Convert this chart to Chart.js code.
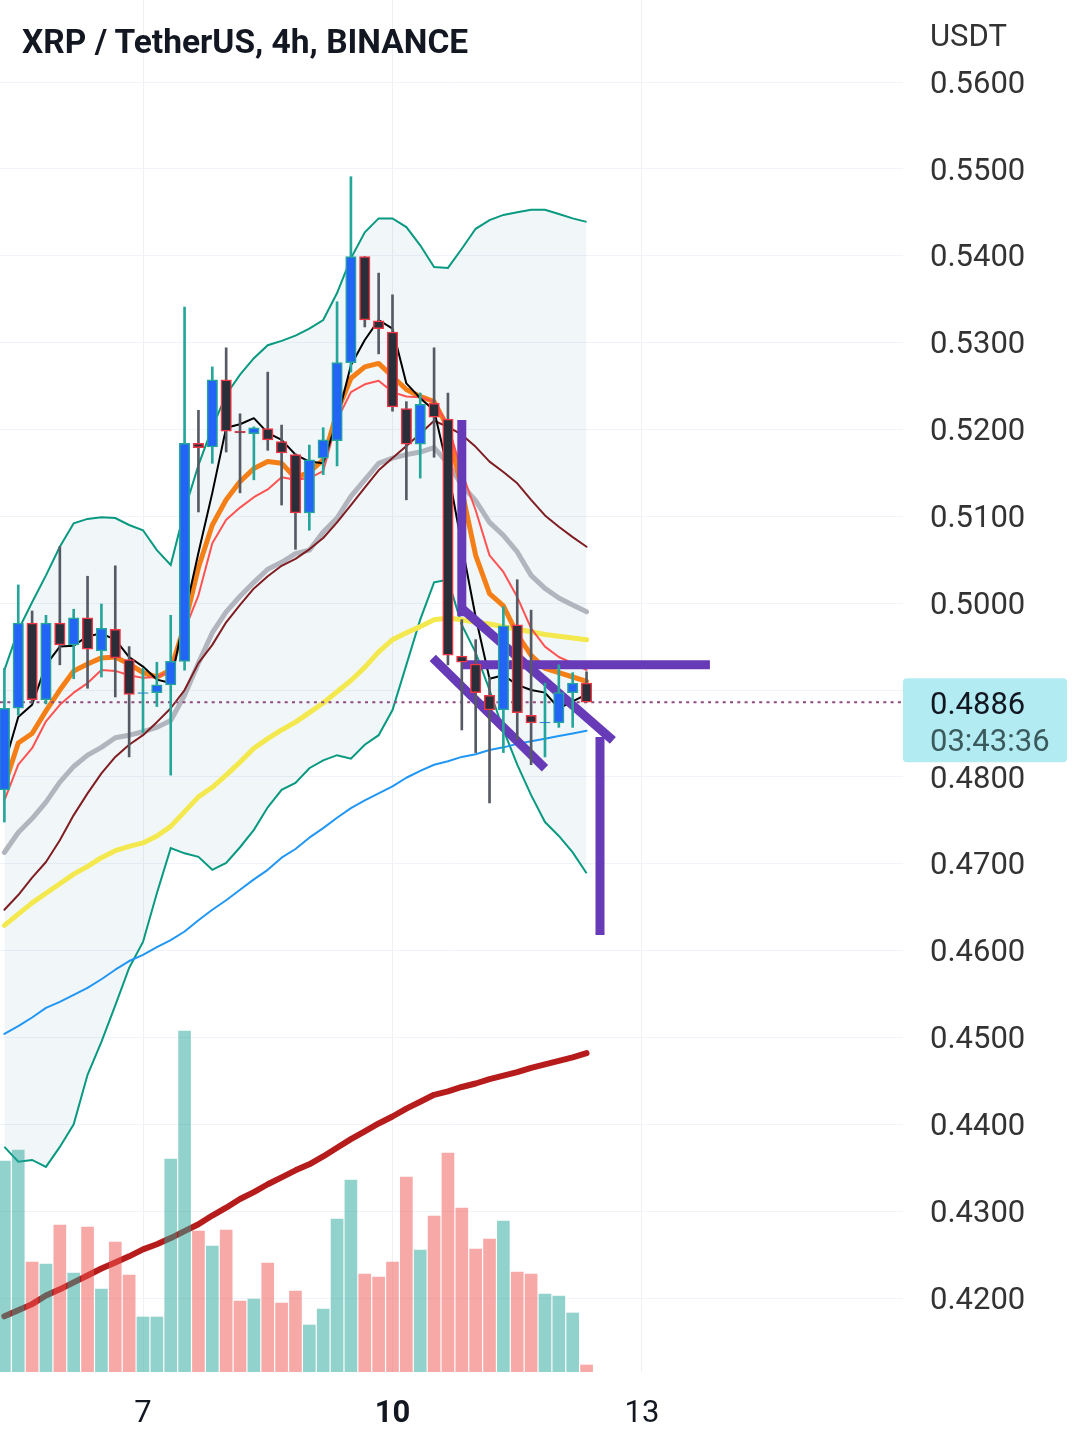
<!DOCTYPE html>
<html>
<head>
<meta charset="utf-8">
<script src="https://cdn.jsdelivr.net/npm/chart.js@4.4.1/dist/chart.umd.min.js"></script>
<style>
html, body { margin: 0; padding: 0; background: #fff; }
#wrap { position: relative; width: 1081px; height: 1446px; overflow: hidden; }
#chart { position: absolute; left: 0; top: 0; }
#title { position: absolute; left: 22px; top: 22px; font: bold 33.5px Roboto, sans-serif; color: #131722; line-height: 40px; white-space: nowrap; }
#unit { position: absolute; left: 930px; top: 17px; font: 31px Roboto, sans-serif; color: #333; line-height: 38px; }
</style>
</head>
<body>
<div id="wrap">
  <canvas id="chart" width="1081" height="1446"></canvas>
  <div id="title">XRP / TetherUS, 4h, BINANCE</div>
  <div id="unit">USDT</div>
</div>
<script>
// 4h candles, index 0 = day 5 08:00
var opens  = [0.4785, 0.4879, 0.4977, 0.4889, 0.4977, 0.4952, 0.4983, 0.4945, 0.4970, 0.4935,
              0.4896, 0.4897, 0.4906, 0.4933, 0.5184, 0.5180, 0.5257, 0.5198, 0.5195, 0.5201,
              0.5186, 0.5171, 0.5104, 0.5167, 0.5187, 0.5277, 0.5399, 0.5325, 0.5312, 0.5224,
              0.5183, 0.5230, 0.5212, 0.4939, 0.4930, 0.4894, 0.4877, 0.4975, 0.4871, 0.4862,
              0.4862, 0.4897, 0.4908];
var highs  = [0.4925, 0.5021, 0.4991, 0.4986, 0.5065, 0.4993, 0.5031, 0.4999, 0.5043, 0.4950,
              0.4925, 0.4932, 0.4986, 0.5341, 0.5222, 0.5272, 0.5294, 0.5218, 0.5203, 0.5266,
              0.5205, 0.5172, 0.5182, 0.5202, 0.5347, 0.5491, 0.5399, 0.5380, 0.5355, 0.5232,
              0.5242, 0.5294, 0.5242, 0.4981, 0.4958, 0.4915, 0.4996, 0.5027, 0.4992, 0.4908,
              0.4929, 0.4920, 0.4921];
var lows   = [0.4748, 0.4871, 0.4885, 0.4884, 0.4929, 0.4913, 0.4902, 0.4915, 0.4892, 0.4823,
              0.4851, 0.4881, 0.4802, 0.4923, 0.5105, 0.5161, 0.5174, 0.5127, 0.5142, 0.5176,
              0.5113, 0.5062, 0.5084, 0.5148, 0.5158, 0.5266, 0.5318, 0.5287, 0.5221, 0.5119,
              0.5144, 0.5168, 0.4929, 0.4854, 0.4828, 0.4770, 0.4828, 0.4843, 0.4814, 0.4823,
              0.4857, 0.4857, 0.4886];
var closes = [0.4879, 0.4977, 0.4889, 0.4977, 0.4952, 0.4983, 0.4947, 0.4971, 0.4937, 0.4895,
              0.4897, 0.4906, 0.4933, 0.5184, 0.5179, 0.5257, 0.5198, 0.5196, 0.5202, 0.5188,
              0.5173, 0.5104, 0.5165, 0.5188, 0.5277, 0.5399, 0.5326, 0.5316, 0.5226, 0.5183,
              0.5229, 0.5214, 0.4940, 0.4932, 0.4897, 0.4877, 0.4974, 0.4874, 0.4862, 0.4863,
              0.4897, 0.4908, 0.4886];
// volume, millions of XRP
var volumes = [21.1, 22.2, 11.0, 10.8, 14.7, 9.9, 14.5, 8.3, 13.0, 9.7,
               5.5, 5.5, 21.3, 34.1, 14.1, 12.6, 14.2, 7.1, 7.3, 10.9,
               6.9, 8.1, 4.7, 6.3, 15.3, 19.2, 9.8, 9.5, 11.0, 19.5,
               12.2, 15.6, 21.9, 16.4, 12.3, 13.3, 15.1, 10.0, 9.8, 7.8,
               7.6, 5.9, 0.7];

// moving averages
var lineBlack  = [0.4814, 0.4869, 0.4883, 0.4929, 0.4950, 0.4951, 0.4962, 0.4965, 0.4958, 0.4938,
                  0.4927, 0.4912, 0.4908, 0.4986, 0.5058, 0.5127, 0.5202, 0.5206, 0.5213, 0.5196,
                  0.5188, 0.5171, 0.5163, 0.5161, 0.5211, 0.5274, 0.5303, 0.5326, 0.5316, 0.5253,
                  0.5236, 0.5222, 0.5153, 0.5067, 0.4984, 0.4913, 0.4917, 0.4906, 0.4900, 0.4897,
                  0.4879, 0.4887, 0.4895];
var lineOrange = [0.4790, 0.4839, 0.4850, 0.4876, 0.4900, 0.4922, 0.4930, 0.4937, 0.4938, 0.4930,
                  0.4920, 0.4915, 0.4923, 0.4975, 0.5041, 0.5090, 0.5119, 0.5140, 0.5155, 0.5163,
                  0.5161, 0.5144, 0.5151, 0.5165, 0.5220, 0.5259, 0.5272, 0.5276, 0.5261, 0.5246,
                  0.5238, 0.5232, 0.5202, 0.5130, 0.5055, 0.5011, 0.4997, 0.4964, 0.4940, 0.4925,
                  0.4920, 0.4915, 0.4910];
var lineSalmon = [0.4773, 0.4814, 0.4833, 0.4864, 0.4883, 0.4897, 0.4908, 0.4923, 0.4922, 0.4917,
                  0.4914, 0.4915, 0.4922, 0.4969, 0.5009, 0.5069, 0.5096, 0.5110, 0.5122, 0.5131,
                  0.5145, 0.5142, 0.5144, 0.5152, 0.5211, 0.5243, 0.5252, 0.5256, 0.5243, 0.5238,
                  0.5237, 0.5232, 0.5205, 0.5151, 0.5107, 0.5055, 0.5036, 0.5007, 0.4971, 0.4950,
                  0.4938, 0.4931, 0.4923];
var lineGray   = [0.4713, 0.4736, 0.4752, 0.4771, 0.4794, 0.4812, 0.4825, 0.4834, 0.4845, 0.4848,
                  0.4852, 0.4857, 0.4865, 0.4894, 0.4931, 0.4966, 0.4990, 0.5008, 0.5024, 0.5039,
                  0.5047, 0.5057, 0.5061, 0.5082, 0.5098, 0.5123, 0.5142, 0.5161, 0.5167, 0.5171,
                  0.5174, 0.5179, 0.5161, 0.5136, 0.5118, 0.5093, 0.5078, 0.5059, 0.5032, 0.5017,
                  0.5006, 0.4998, 0.4990];
var lineMaroon = [0.4647, 0.4664, 0.4684, 0.4702, 0.4727, 0.4756, 0.4781, 0.4804, 0.4823, 0.4837,
                  0.4848, 0.4863, 0.4879, 0.4900, 0.4931, 0.4952, 0.4978, 0.4998, 0.5017, 0.5031,
                  0.5043, 0.5051, 0.5062, 0.5075, 0.5093, 0.5113, 0.5133, 0.5153, 0.5167, 0.5181,
                  0.5195, 0.5210, 0.5203, 0.5194, 0.5180, 0.5163, 0.5151, 0.5138, 0.5119, 0.5101,
                  0.5088, 0.5076, 0.5065];
var lineYellow = [0.4629, 0.4642, 0.4655, 0.4666, 0.4677, 0.4688, 0.4697, 0.4707, 0.4715, 0.4720,
                  0.4724, 0.4732, 0.4743, 0.4760, 0.4777, 0.4788, 0.4802, 0.4817, 0.4833, 0.4844,
                  0.4854, 0.4863, 0.4874, 0.4885, 0.4898, 0.4911, 0.4926, 0.4944, 0.4958, 0.4966,
                  0.4973, 0.4981, 0.4983, 0.4981, 0.4978, 0.4976, 0.4973, 0.4970, 0.4967, 0.4964,
                  0.4962, 0.4960, 0.4958];
var lineBlue   = [0.4504, 0.4513, 0.4523, 0.4534, 0.4541, 0.4549, 0.4557, 0.4567, 0.4578, 0.4588,
                  0.4595, 0.4604, 0.4612, 0.4622, 0.4635, 0.4647, 0.4658, 0.4670, 0.4682, 0.4693,
                  0.4707, 0.4717, 0.4730, 0.4741, 0.4753, 0.4764, 0.4773, 0.4781, 0.4789, 0.4799,
                  0.4807, 0.4814, 0.4818, 0.4823, 0.4826, 0.4831, 0.4834, 0.4838, 0.4841, 0.4844,
                  0.4847, 0.4850, 0.4853];
var lineDarkRed = [0.4179, 0.4186, 0.4193, 0.4203, 0.4210, 0.4218, 0.4226, 0.4234, 0.4241, 0.4248,
                   0.4256, 0.4262, 0.4269, 0.4277, 0.4285, 0.4295, 0.4304, 0.4314, 0.4322, 0.4331,
                   0.4339, 0.4347, 0.4354, 0.4363, 0.4373, 0.4383, 0.4392, 0.4401, 0.4409, 0.4418,
                   0.4426, 0.4434, 0.4438, 0.4443, 0.4447, 0.4452, 0.4456, 0.4460, 0.4465, 0.4469,
                   0.4473, 0.4477, 0.4482];
// bollinger bands
var bbUpper = [0.4923, 0.4969, 0.5001, 0.5032, 0.5065, 0.5092, 0.5097, 0.5099, 0.5098, 0.5090,
               0.5084, 0.5061, 0.5044, 0.5107, 0.5159, 0.5202, 0.5240, 0.5263, 0.5282, 0.5297,
               0.5302, 0.5308, 0.5316, 0.5326, 0.5357, 0.5397, 0.5427, 0.5443, 0.5443, 0.5433,
               0.5412, 0.5387, 0.5386, 0.5408, 0.5431, 0.5441, 0.5447, 0.5450, 0.5453, 0.5453,
               0.5448, 0.5443, 0.5439];
var bbLower = [0.4374, 0.4357, 0.4359, 0.4351, 0.4374, 0.4400, 0.4457, 0.4495, 0.4537, 0.4580,
               0.4610, 0.4666, 0.4718, 0.4712, 0.4708, 0.4693, 0.4701, 0.4719, 0.4739, 0.4765,
               0.4785, 0.4793, 0.4810, 0.4819, 0.4825, 0.4821, 0.4837, 0.4848, 0.4877, 0.4929,
               0.4981, 0.5024, 0.5027, 0.4975, 0.4943, 0.4900, 0.4854, 0.4814, 0.4779, 0.4748,
               0.4732, 0.4713, 0.4689];

// hand drawn lines, [candle index, price]
var drawPole    = [[33.0, 0.5211], [33.0, 0.4985]];
var drawUpper   = [[33.0, 0.4994], [43.9, 0.4842]];
var drawLower   = [[30.9, 0.4937], [39.0, 0.4810]];
var drawLevel   = [[33.0, 0.4929], [50.9, 0.4929]];
var drawTarget  = [[42.97, 0.4846], [42.97, 0.4618]];

var lastPrice = 0.4886;
var countdown = '03:43:36';
var dayTickIndex = [10, 28, 46];
var dayTickLabels = ['7', '10', '13'];
var priceTicks = [0.42, 0.43, 0.44, 0.45, 0.46, 0.47, 0.48, 0.49, 0.50, 0.51, 0.52, 0.53, 0.54, 0.55, 0.56];

var X_MIN = -0.3167, X_MAX = 64.83;
var Y_MIN = 0.411486, Y_MAX = 0.569441;

var isUp = closes.map(function (c, i) { return c >= opens[i]; });
var pts = function (arr) { return arr.map(function (v, i) { return { x: i, y: v }; }); };
var pairPts = function (arr) { return arr.map(function (p) { return { x: p[0], y: p[1] }; }); };

function maLine(data, color, width, order) {
    return { type: 'line', data: pts(data), borderColor: color, borderWidth: width, pointRadius: 0,
             tension: 0, fill: false, order: order, yAxisID: 'y', borderJoinStyle: 'round', borderCapStyle: 'round' };
}
function drawing(p, order) {
    return { type: 'line', data: pairPts(p), borderColor: '#673ab7', borderWidth: 9, pointRadius: 0,
             fill: false, order: order, yAxisID: 'y', borderCapStyle: 'butt' };
}

var priceTag = {
    id: 'priceTag',
    afterDraw: function (chart) {
        var ctx = chart.ctx;
        var y = chart.scales.y.getPixelForValue(lastPrice);
        var x = chart.chartArea.right;
        ctx.save();
        ctx.fillStyle = '#b2ebf2';
        ctx.beginPath();
        if (ctx.roundRect) ctx.roundRect(x, y - 24, 164, 84, 4); else ctx.rect(x, y - 24, 164, 84);
        ctx.fill();
        ctx.textBaseline = 'middle';
        ctx.textAlign = 'left';
        ctx.font = '31px Roboto';
        ctx.fillStyle = '#131722';
        ctx.fillText(lastPrice.toFixed(4), x + 27, y + 4);
        ctx.fillStyle = '#3a5a5e';
        ctx.fillText(countdown, x + 27, y + 41);
        ctx.restore();
    }
};

var canvasDrawer = document.getElementById('chart');
new Chart(canvasDrawer, {
    type: 'bar',
    data: {
        datasets: [
            { type: 'line', data: pts(bbUpper), borderColor: '#089981', borderWidth: 2, pointRadius: 0, tension: 0,
              fill: '+1', backgroundColor: 'rgba(20,120,140,0.06)', order: 14, yAxisID: 'y' },
            { type: 'line', data: pts(bbLower), borderColor: '#089981', borderWidth: 2, pointRadius: 0, tension: 0,
              fill: false, order: 13, yAxisID: 'y' },
            maLine(lineDarkRed, '#b71c1c', 6, 12),
            { type: 'bar', data: pts(volumes), yAxisID: 'vol', grouped: false, barThickness: 12, order: 11,
              backgroundColor: isUp.map(function (u) { return u ? 'rgba(38,166,154,0.5)' : 'rgba(239,83,80,0.5)'; }) },
            maLine(lineBlue, '#2196f3', 2, 10),
            maLine(lineYellow, '#f4e84f', 5, 9),
            maLine(lineGray, '#b2b5be', 5, 8),
            maLine(lineMaroon, '#7f1d22', 2, 7),
            maLine(lineOrange, '#f57f17', 5, 6),
            maLine(lineSalmon, '#ff5252', 2, 5),
            maLine(lineBlack, '#000000', 2, 4),
            { type: 'line', data: [{ x: X_MIN, y: lastPrice }, { x: X_MAX, y: lastPrice }], borderColor: '#8e4a7e',
              borderWidth: 2, borderDash: [3, 4.3], pointRadius: 0, fill: false, order: 3, yAxisID: 'y' },
            drawing(drawPole, 2), drawing(drawUpper, 2), drawing(drawLower, 2), drawing(drawLevel, 2), drawing(drawTarget, 2),
            { type: 'bar', label: 'wicks', yAxisID: 'y', grouped: false, barThickness: 2, order: 1,
              data: lows.map(function (l, i) { return { x: i, y: [l, highs[i]] }; }),
              backgroundColor: isUp.map(function (u) { return u ? '#26a69a' : '#555a64'; }) },
            { type: 'bar', label: 'bodies', yAxisID: 'y', grouped: false, barThickness: 10.5, order: 0,
              borderWidth: 1.5, borderSkipped: false,
              data: opens.map(function (o, i) { return { x: i, y: [o, closes[i]] }; }),
              backgroundColor: isUp.map(function (u) { return u ? '#2264f5' : '#2a2e39'; }),
              borderColor: isUp.map(function (u) { return u ? '#26a69a' : '#f23645'; }) }
        ]
    },
    options: {
        responsive: false,
        animation: false,
        events: [],
        layout: { padding: 0 },
        plugins: { legend: { display: false }, tooltip: { enabled: false } },
        scales: {
            x: {
                type: 'linear', min: X_MIN, max: X_MAX, offset: false,
                grid: { color: '#eef0f4', drawTicks: false, offset: false },
                border: { display: false },
                afterBuildTicks: function (s) { s.ticks = dayTickIndex.map(function (v) { return { value: v }; }); },
                afterFit: function (s) { s.height = 74; s.paddingLeft = 0; s.paddingRight = 0; },
                ticks: {
                    padding: 24, color: '#131722', maxRotation: 0, autoSkip: false,
                    font: function (c) { return { family: 'Roboto', size: 31, weight: (c.tick && c.tick.value === 28) ? 'bold' : 'normal' }; },
                    callback: function (v) { var k = dayTickIndex.indexOf(v); return k < 0 ? '' : dayTickLabels[k]; }
                }
            },
            y: {
                position: 'right', min: Y_MIN, max: Y_MAX,
                grid: { color: '#f0f3fa', drawTicks: false },
                border: { display: false },
                afterBuildTicks: function (s) { s.ticks = priceTicks.map(function (v) { return { value: v }; }); },
                afterFit: function (s) { s.width = 178; s.paddingTop = 0; s.paddingBottom = 0; },
                ticks: {
                    padding: 27, color: '#333', autoSkip: false, labelOffset: 3,
                    font: { family: 'Roboto', size: 31 },
                    // the last price tag covers the nearest level
                    callback: function (v) { return Math.abs(v - lastPrice) < 0.003 ? '' : v.toFixed(4); }
                }
            },
            vol: { display: false, min: 0, max: 137.2 }
        }
    },
    plugins: [priceTag]
});
</script>
</body>
</html>
